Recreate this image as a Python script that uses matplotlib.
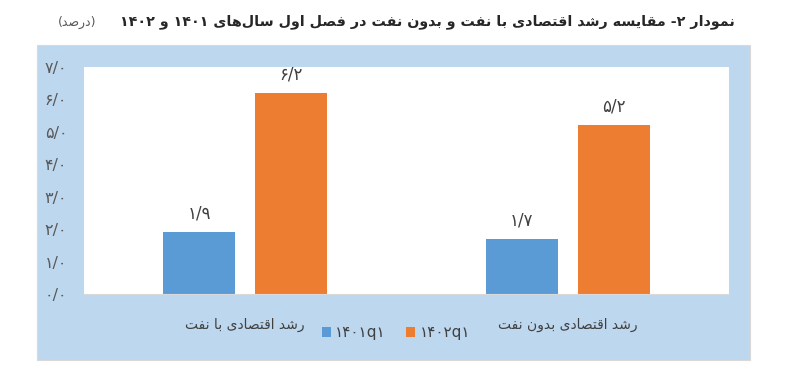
import matplotlib
matplotlib.use("Agg")
import matplotlib.pyplot as plt
from matplotlib.patches import Rectangle

plt.rcParams['font.family'] = ['DejaVu Sans']

# data
categories = ["رشد اقتصادی با نفت", "رشد اقتصادی بدون نفت"]
series_names = ["۱۴۰۱q۱", "۱۴۰۲q۱"]
values_1401 = [1.9, 1.7]
values_1402 = [6.2, 5.2]
yticks = [0, 1, 2, 3, 4, 5, 6, 7]

BLUE = "#5B9BD5"
ORANGE = "#ED7D31"
PANEL = "#BDD7EE"
TEXT = "#404040"

# minimal persian shaping (matplotlib has no bidi / joining)
FORMS = {
    'ا': ('\uFE8D', '\uFE8E', None, None),
    'د': ('\uFEA9', '\uFEAA', None, None),
    'ر': ('\uFEAD', '\uFEAE', None, None),
    'و': ('\uFEED', '\uFEEE', None, None),
    'ب': ('\uFE8F', '\uFE90', '\uFE91', '\uFE92'),
    'ت': ('\uFE95', '\uFE96', '\uFE97', '\uFE98'),
    'س': ('\uFEB1', '\uFEB2', '\uFEB3', '\uFEB4'),
    'ش': ('\uFEB5', '\uFEB6', '\uFEB7', '\uFEB8'),
    'ص': ('\uFEB9', '\uFEBA', '\uFEBB', '\uFEBC'),
    'ف': ('\uFED1', '\uFED2', '\uFED3', '\uFED4'),
    'ق': ('\uFED5', '\uFED6', '\uFED7', '\uFED8'),
    'ل': ('\uFEDD', '\uFEDE', '\uFEDF', '\uFEE0'),
    'م': ('\uFEE1', '\uFEE2', '\uFEE3', '\uFEE4'),
    'ن': ('\uFEE5', '\uFEE6', '\uFEE7', '\uFEE8'),
    'ه': ('\uFEE9', '\uFEEA', '\uFEEB', '\uFEEC'),
    'ی': ('\uFEEF', '\uFEF0', '\uFEF3', '\uFEF4'),
}
DUAL = 'بتسشصفقلمنهی'


def shape_word(w):
    out = []
    for i, ch in enumerate(w):
        if ch == '\u200c':
            continue
        if ch not in FORMS:
            out.append(ch)
            continue
        prev = w[i - 1] if i > 0 else ''
        nxt = w[i + 1] if i + 1 < len(w) else ''
        jp = prev != '' and prev in DUAL
        jn = ch in DUAL and nxt != '' and nxt in FORMS
        iso, fin, ini, med = FORMS[ch]
        if jp and jn:
            out.append(med)
        elif jp:
            out.append(fin)
        elif jn:
            out.append(ini)
        else:
            out.append(iso)
    return ''.join(reversed(out))


def fa(text):
    words = []
    for t in text.split(' '):
        if any(c in FORMS for c in t):
            words.append(shape_word(t))
        else:
            words.append(t)
    return ' '.join(reversed(words))


def fa_num(v):
    s = f"{v:.1f}".replace('.', '/')
    return s.translate(str.maketrans('0123456789', '۰۱۲۳۴۵۶۷۸۹'))


fig = plt.figure(figsize=(7.99, 3.74), dpi=100)
W, H = 799, 374

# light blue chart panel
fig.patches.append(Rectangle((37 / W, 1 - 360 / H), (750 - 37) / W, (360 - 45) / H,
                             transform=fig.transFigure, facecolor=PANEL,
                             edgecolor="#D9D9D9", linewidth=0.8, zorder=0))

ax = fig.add_axes([84 / W, 1 - 294 / H, (729 - 84) / W, (294 - 67) / H])
ax.set_zorder(2)
ax.set_facecolor("white")

x = [0, 1]
bw = 0.223
off = 0.1426
b1 = ax.bar([i - off for i in x], values_1401, bw, color=BLUE, label=series_names[0])
b2 = ax.bar([i + off for i in x], values_1402, bw, color=ORANGE, label=series_names[1])
ax.bar_label(b1, labels=[fa_num(v) for v in values_1401], padding=7, fontsize=12, color=TEXT)
ax.bar_label(b2, labels=[fa_num(v) for v in values_1402], padding=7, fontsize=12, color=TEXT)

ax.set_xlim(-0.5, 1.5)
ax.set_ylim(0, 7)
ax.set_yticks(yticks, [fa_num(v) for v in yticks])
ax.set_xticks(x, [fa(c) for c in categories])
ax.tick_params(axis='y', length=0, pad=12, labelsize=11.5, labelcolor="#595959")
ax.tick_params(axis='x', length=0, pad=17, labelsize=10, labelcolor=TEXT)
for s in ['top', 'right', 'left']:
    ax.spines[s].set_visible(False)
ax.spines['bottom'].set_color("#D9D9D9")

leg = fig.legend(loc='center', bbox_to_anchor=(396 / W, 1 - 333 / H), ncol=2, frameon=False,
                 fontsize=11, handlelength=0.6, handleheight=0.6, columnspacing=1.3,
                 handletextpad=0.3, labelcolor=TEXT)
leg.set_zorder(3)

title = "نمودار -۲ مقایسه رشد اقتصادی با نفت و بدون نفت در فصل اول سال‌های ۱۴۰۱ و ۱۴۰۲"
fig.text(735 / W, 1 - 22 / H, fa(title), ha='right', va='center', fontsize=10.3,
         fontweight='bold', color="#262626")
fig.text(58 / W, 1 - 22 / H, "(" + shape_word("درصد") + ")", ha='left', va='center',
         fontsize=9, color="#595959")

fig.savefig("out.png", dpi=100, facecolor="white")
